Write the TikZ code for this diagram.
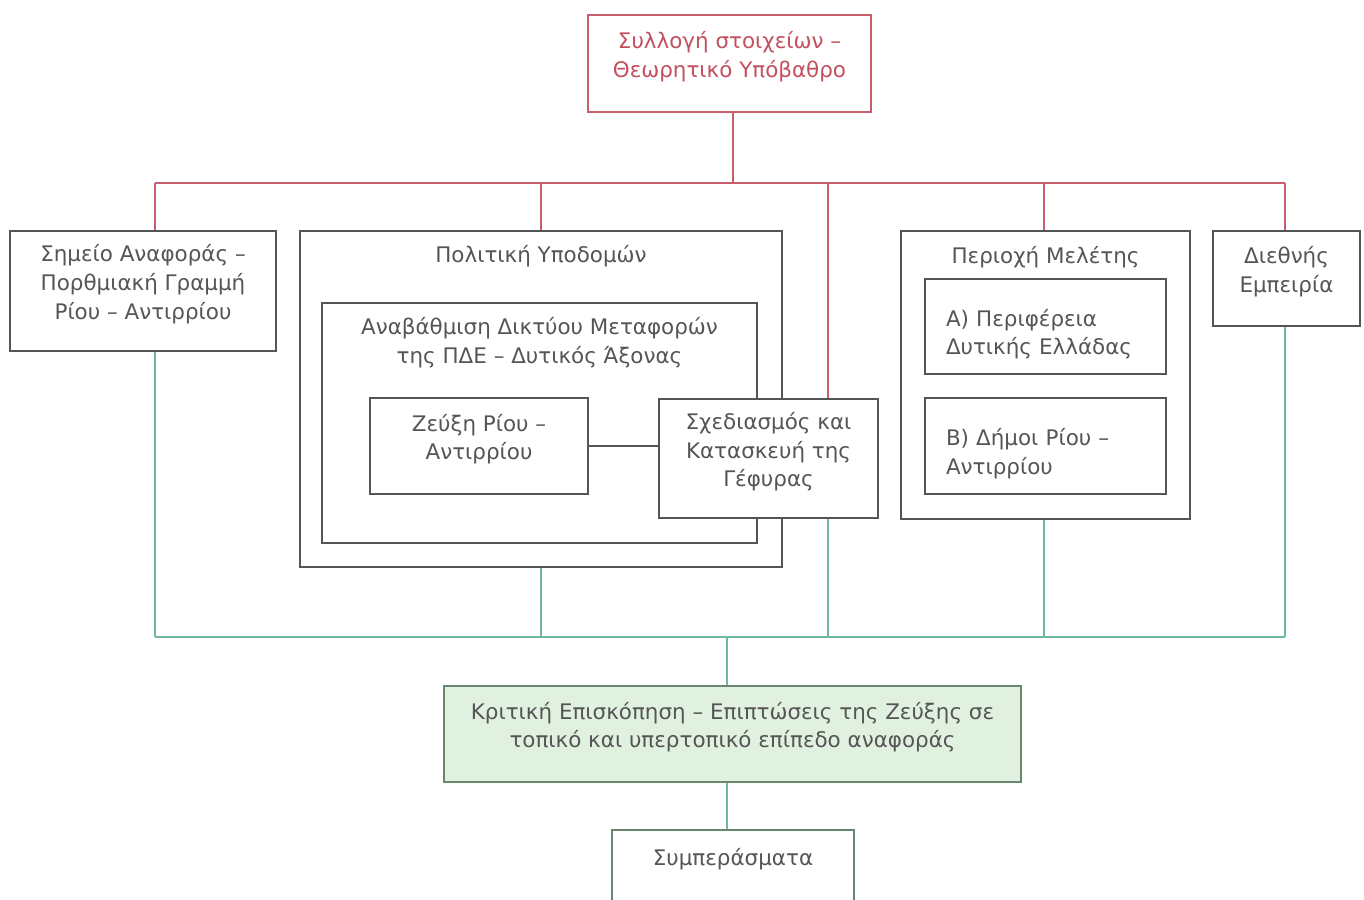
\documentclass[tikz,border=0pt]{standalone}
\usepackage{fontspec}
\setmainfont{DejaVu Sans}
\usetikzlibrary{positioning}

\definecolor{boxgray}{RGB}{85,85,85}
\definecolor{linered}{RGB}{200,95,110}
\definecolor{txtred}{RGB}{195,80,95}
\definecolor{linegreen}{RGB}{110,185,160}
\definecolor{fillgreen}{RGB}{224,241,224}
\definecolor{edgegreen}{RGB}{105,135,110}

\tikzset{
	box/.style={draw=boxgray, line width=1.3pt, fill=white, text=boxgray, align=center,
		inner sep=0pt, text depth=0.36cm, font=\fontsize{12.2}{16.3}\selectfont},
	frame/.style={draw=boxgray, line width=1.3pt, inner sep=0pt},
	ttl/.style={text=boxgray, align=center, inner sep=0pt, font=\fontsize{12.2}{16.3}\selectfont},
	redln/.style={draw=linered, line width=1pt},
	greenln/.style={draw=linegreen, line width=1pt}
}

\begin{document}
\begin{tikzpicture}[>=latex]

	\useasboundingbox (0,0) rectangle (27.28,-17.98);

	\node [box, draw=linered, text=txtred, minimum width=5.66cm, minimum height=1.94cm] (top) at (14.59,-1.27) {Συλλογή στοιχείων –\\Θεωρητικό Υπόβαθρο};

	\node [box, minimum width=5.32cm, minimum height=2.40cm] (sim) at (2.86,-5.82) {Σημείο Αναφοράς –\\Πορθμιακή Γραμμή\\Ρίου – Αντιρρίου};

	\node [frame, minimum width=9.64cm, minimum height=6.72cm] (pol) at (10.82,-7.98) {};
	\node [ttl] (polT) at ([yshift=-0.52cm]pol.north) {Πολιτική Υποδομών};
	\node [frame, minimum width=8.70cm, minimum height=4.80cm] (anab) at (10.79,-8.46) {};
	\node [ttl] (anabT) at ([yshift=-0.82cm]anab.north) {Αναβάθμιση Δικτύου Μεταφορών\\της ΠΔΕ – Δυτικός Άξονας};
	\node [box, minimum width=4.36cm, minimum height=1.92cm] (zeuxi) at (9.58,-8.92) {Ζεύξη Ρίου –\\Αντιρρίου};
	\node [box, minimum width=4.38cm, minimum height=2.38cm] (sxed) at (15.37,-9.17) {Σχεδιασμός και\\Κατασκευή της\\Γέφυρας};

	\node [frame, minimum width=5.78cm, minimum height=5.76cm] (peri) at (20.91,-7.50) {};
	\node [ttl] (periT) at ([yshift=-0.54cm]peri.north) {Περιοχή Μελέτης};
	\node [box, align=left, text width=3.98cm, inner xsep=0.42cm, minimum height=1.90cm] (perA) at (20.91,-6.53) {A) Περιφέρεια\\Δυτικής Ελλάδας};
	\node [box, align=left, text width=3.98cm, inner xsep=0.42cm, minimum height=1.92cm] (perB) at (20.91,-8.92) {B) Δήμοι Ρίου –\\Αντιρρίου};

	\node [box, minimum width=2.94cm, minimum height=1.90cm] (dieth) at (25.73,-5.57) {Διεθνής\\Εμπειρία};

	\node [box, draw=edgegreen, fill=fillgreen, minimum width=11.54cm, minimum height=1.92cm] (krit) at (14.65,-14.68) {Κριτική Επισκόπηση – Επιπτώσεις της Ζεύξης σε\\τοπικό και υπερτοπικό επίπεδο αναφοράς};

	\node [box, draw=edgegreen, minimum width=4.84cm, minimum height=1.44cm] (symp) at (14.66,-17.32) {Συμπεράσματα};

	% upper bus
	\coordinate (rL) at (3.10,-3.66);
	\coordinate (rT) at (14.66,-3.66);
	\coordinate (rM) at (16.56,-3.66);
	\coordinate (rP) at (20.88,-3.66);
	\coordinate (rR) at (25.70,-3.66);
	\draw [redln] (rT |- top.south) -- (rT);
	\draw [redln] (rL) -- (rR);
	\draw [redln] (rL) -- (rL |- sim.north);
	\draw [redln] (pol.north |- rL) -- (pol.north);
	\draw [redln] (rM) -- (rM |- sxed.north);
	\draw [redln] (rP) -- (rP |- peri.north);
	\draw [redln] (rR) -- (rR |- dieth.north);

	\draw [line width=1.3pt, draw=boxgray] (zeuxi.east) -- (sxed.west |- zeuxi.east);

	% lower bus
	\coordinate (gL) at (3.10,-12.74);
	\coordinate (gK) at (14.54,-12.74);
	\coordinate (gR) at (25.70,-12.74);
	\draw [greenln] (gL) -- (gR);
	\draw [greenln] (gL |- sim.south) -- (gL);
	\draw [greenln] (pol.south) -- (pol.south |- gL);
	\draw [greenln] (rM |- sxed.south) -- (rM |- gL);
	\draw [greenln] (rP |- peri.south) -- (rP |- gL);
	\draw [greenln] (gR |- dieth.south) -- (gR);
	\draw [greenln] (gK |- krit.north) -- (gK);
	\draw [greenln] (gK |- krit.south) -- (gK |- symp.north);

\end{tikzpicture}
\end{document}
